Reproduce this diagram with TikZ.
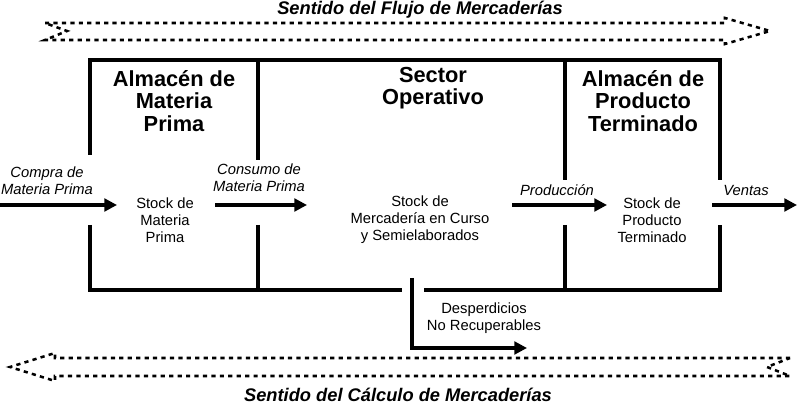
\documentclass[tikz,border=0pt]{standalone}
\usepackage{fontspec}
\setmainfont{Liberation Sans}
\usetikzlibrary{arrows.meta}
\begin{document}
\begin{tikzpicture}[x=0.025cm, y=-0.025cm, line width = 2.2pt]
    \useasboundingbox (0,0) rectangle (800,405);
    \tikzset{
        head/.style = {font = \fontsize{15.5}{16}\selectfont\bfseries, align = center},
        txt/.style = {font = \fontsize{10.5}{12}\selectfont, align = center},
        itxt/.style = {font = \fontsize{10.5}{12}\selectfont\itshape, align = center},
        title/.style = {font = \fontsize{13}{14}\selectfont\bfseries\itshape},
        flow/.style = {-{Triangle[length=9pt, width=9pt]}, line width = 2.2pt},
        dasharrow/.style = {dashed, line width = 1.8pt}
    }

    % frame
    \coordinate (TL) at (90,60);
    \coordinate (TR) at (720,60);
    \draw (90,155) -- (TL) -- (TR) -- (720,180);
    \draw (90,225) -- (90,290) -- (402,290);
    \draw (424,290) -- (720,290) -- (720,225);
    \draw (258,60) -- (258,160);
    \draw (258,225) -- (258,290);
    \draw (565,60) -- (565,180);
    \draw (565,225) -- (565,290);

    % headers
    \node (hMP) [head] at (174,101) {Almacén de\\Materia\\Prima};
    \node (hSO) [head] at (433,88) {Sector\\Operativo};
    \node (hPT) [head] at (643,101) {Almacén de\\Producto\\Terminado};

    % stocks
    \node (sMP) [txt] at (165,220) {Stock de\\Materia\\Prima};
    \node (sSO) [txt] at (420,220) {Stock de\\Mercadería en Curso\\y Semielaborados};
    \node (sPT) [txt] at (652,220) {Stock de\\Producto\\Terminado};

    % flows
    \coordinate (c0) at (0,205);
    \coordinate (c1) at (117,205);
    \draw[flow] (c0) -- (c1);
    \node (lCompra) [itxt] at (47,181) {Compra de\\Materia Prima};
    \coordinate (c2) at (215,205);
    \coordinate (c3) at (307,205);
    \draw[flow] (c2) -- (c3);
    \node (lConsumo) [itxt] at (259,178) {Consumo de\\Materia Prima};
    \coordinate (c4) at (512,205);
    \coordinate (c5) at (607,205);
    \draw[flow] (c4) -- (c5);
    \node (lProd) [itxt] at (557,190) {Producción};
    \coordinate (c6) at (712,205);
    \coordinate (c7) at (797,205);
    \draw[flow] (c6) -- (c7);
    \node (lVentas) [itxt] at (746,190) {Ventas};

    % waste
    \coordinate (w0) at (412,278);
    \coordinate (w1) at (412,348);
    \coordinate (w2) at (527,348);
    \draw[flow] (w0) -- (w1) -- (w2);
    \node (lWaste) [txt] at (484,318) {Desperdicios\\No Recuperables};

    % direction arrows
    \draw[dasharrow] (45,23) -- (725,23) -- (725,18) -- (770,31) -- (725,44) -- (725,40) -- (45,40) -- (67,31) -- cycle;
    \node (tTop) [title] at (420,10) {Sentido del Flujo de Mercaderías};
    \draw[dasharrow] (790,358) -- (55,358) -- (55,353) -- (10,367) -- (55,381) -- (55,376) -- (790,376) -- (767,367) -- cycle;
    \node (tBot) [title] at (398,395) {Sentido del Cálculo de Mercaderías};
\end{tikzpicture}
\end{document}
